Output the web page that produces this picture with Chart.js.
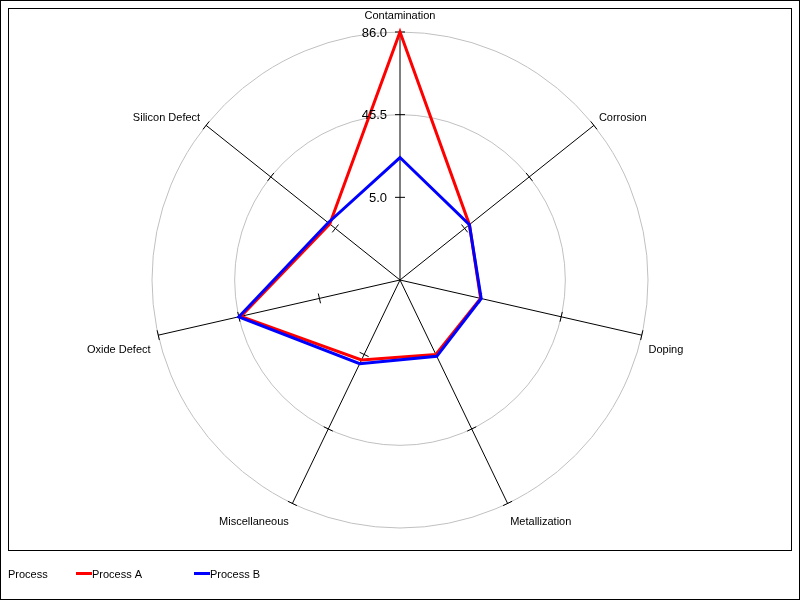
<!DOCTYPE html>
<html><head><meta charset="utf-8">
<script src="https://cdn.jsdelivr.net/npm/chart.js@4/dist/chart.umd.min.js"></script>
<style>html,body{margin:0;padding:0;background:#fff;overflow:hidden}#wrap{width:800px;height:600px;position:relative}canvas{display:block}</style>
</head><body><div id="wrap"><canvas id="c" width="800" height="600"></canvas></div>
<script>
// ---- data ----
const categories = ['Contamination','Corrosion','Doping','Metallization','Miscellaneous','Oxide Defect','Silicon Defect'];
const processA = [86.0, 8.0, 5.0, 5.0, 8.0, 44.5, 8.5];
const processB = [24.5, 8.0, 5.3, 6.0, 10.0, 45.5, 9.5];
const seriesNames = ['Process A', 'Process B'];
const legendTitle = 'Process';
const tickValues = [5.0, 45.5, 86.0];
const axisMin = -35.5;

// ---- styles ----
const seriesColors = ['#ff0000', '#0000ff'];
const FONT = '"Liberation Sans", Arial, sans-serif';

const decor = {
  id: 'decor',
  beforeDatasetsDraw(chart) {
    const ctx = chart.ctx, s = chart.scales.r;
    ctx.save();
    ctx.strokeStyle = '#000';
    ctx.lineWidth = 1;
    for (let i = 0; i < categories.length; i++) {
      const a = s.getIndexAngle(i) - Math.PI / 2;
      const px = -Math.sin(a), py = Math.cos(a);
      tickValues.forEach(v => {
        const p = s.getPointPositionForValue(i, v);
        ctx.beginPath();
        ctx.moveTo(p.x - px * 5, p.y - py * 5);
        ctx.lineTo(p.x + px * 5, p.y + py * 5);
        ctx.stroke();
      });
    }
    ctx.restore();
  },
  afterDraw(chart) {
    const ctx = chart.ctx, s = chart.scales.r;
    ctx.save();
    // frames
    ctx.strokeStyle = '#000';
    ctx.lineWidth = 1;
    ctx.strokeRect(0.5, 0.5, 799, 599);
    ctx.strokeRect(8.5, 8.5, 783, 542);
    // tick labels
    ctx.fillStyle = '#000';
    ctx.font = '13px ' + FONT;
    ctx.textAlign = 'right';
    ctx.textBaseline = 'middle';
    tickValues.forEach(v => {
      const p = s.getPointPositionForValue(0, v);
      ctx.fillText(v.toFixed(1), p.x - 13, p.y + 1);
    });
    // category labels
    ctx.font = '11px ' + FONT;
    categories.forEach((lab, i) => {
      const p = s.getPointPositionForValue(i, s.max);
      const a = s.getIndexAngle(i) - Math.PI / 2;
      const c = Math.cos(a), sn = -Math.sin(a);
      let x = p.x, y = p.y;
      if (Math.abs(c) < 0.01) {
        ctx.textAlign = 'center';
        y -= 16;
      } else {
        ctx.textAlign = c > 0 ? 'left' : 'right';
        if (sn > 0) {
          x += c > 0 ? 5 : -6;
          y -= 7.5;
        } else {
          const off = (c > 0 ? 8 : 9) - 6 * Math.abs(sn);
          x += c > 0 ? off : -off;
          y += 13.7 + 5.9 * Math.abs(sn);
        }
      }
      ctx.fillText(lab, x, y);
    });
    // legend
    ctx.textAlign = 'left';
    ctx.fillText(legendTitle, 8, 575);
    seriesNames.forEach((n, k) => {
      const x0 = 76 + k * 118;
      ctx.strokeStyle = seriesColors[k];
      ctx.lineWidth = 3;
      ctx.beginPath();
      ctx.moveTo(x0, 573.5);
      ctx.lineTo(x0 + 16, 573.5);
      ctx.stroke();
      ctx.fillStyle = '#000';
      ctx.fillText(n, x0 + 16, 575);
    });
    ctx.restore();
  }
};

new Chart(document.getElementById('c'), {
  type: 'radar',
  data: {
    labels: categories,
    datasets: [
      { label: seriesNames[0], data: processA, borderColor: seriesColors[0], borderWidth: 3, fill: false, pointRadius: 0, tension: 0, order: 2 },
      { label: seriesNames[1], data: processB, borderColor: seriesColors[1], borderWidth: 3, fill: false, pointRadius: 0, tension: 0, order: 1 }
    ]
  },
  options: {
    responsive: false,
    animation: false,
    devicePixelRatio: 1,
    layout: { padding: { left: 152, right: 152, top: 32, bottom: 72 } },
    plugins: { legend: { display: false }, tooltip: { enabled: false } },
    scales: {
      r: {
        min: axisMin,
        max: tickValues[tickValues.length - 1],
        ticks: { display: false, stepSize: tickValues[1] - tickValues[0] },
        pointLabels: { display: false },
        angleLines: { display: true, color: '#000', lineWidth: 1 },
        grid: {
          circular: true,
          lineWidth: 1,
          color: (ctx) => (ctx.tick && ctx.tick.value > tickValues[0] + 0.01) ? '#c0c0c0' : 'rgba(0,0,0,0)'
        }
      }
    }
  },
  plugins: [decor]
});
</script>
</body></html>
